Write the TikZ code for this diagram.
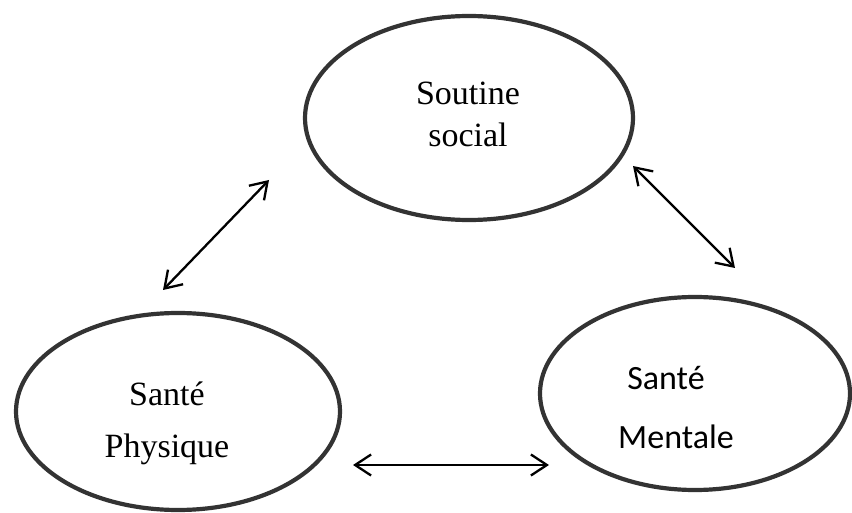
\documentclass[tikz,border=0pt]{standalone}
\usepackage{fontspec}
\setmainfont{Liberation Serif}
\newfontfamily\calibrifont{Carlito}
\usetikzlibrary{arrows.meta,shapes.geometric}
\tikzset{
  bubble/.style={draw=black!80, ellipse, line width=4.2pt, inner sep=0pt},
  lbl/.style={anchor=base, inner sep=0pt, font=\fontsize{34}{40}\selectfont},
  lblsans/.style={anchor=base, inner sep=0pt, font=\calibrifont\fontsize{34}{40}\selectfont},
  link/.style={{Straight Barb[length=16pt,width=21pt]}-{Straight Barb[length=16pt,width=21pt]}, line width=2.3pt}
}
\begin{document}
\begin{tikzpicture}[x=1pt, y=-1pt]
  \useasboundingbox (0,0) rectangle (852,513);
  % the three ellipses
  \node[bubble, minimum width=328pt, minimum height=204pt] (soc) at (469,118) {};
  \node[bubble, minimum width=324pt, minimum height=197pt] (phys) at (178,411.5) {};
  \node[bubble, minimum width=310pt, minimum height=193pt] (ment) at (695,393.5) {};
  % labels
  \node[lbl] (socA) at (468,105) {Soutine};
  \node[lbl] (socB) at (468,147) {social};
  \node[lbl] (physA) at (167,405) {Santé};
  \node[lbl] (physB) at (167,457) {Physique};
  \node[lblsans] (mentA) at (666,389) {Santé};
  \node[lblsans] (mentB) at (676,448) {Mentale};
  % arrow ends
  \coordinate (sp1) at (163,290);
  \coordinate (sp2) at (269,180);
  \coordinate (sm1) at (633,166);
  \coordinate (sm2) at (735,268);
  \coordinate (pm1) at (353,465);
  \coordinate (pm2) at (549,465);
  \draw[link] (sp1) -- (sp2);
  \draw[link] (sm1) -- (sm2);
  \draw[link] (pm1) -- (pm2);
\end{tikzpicture}
\end{document}
